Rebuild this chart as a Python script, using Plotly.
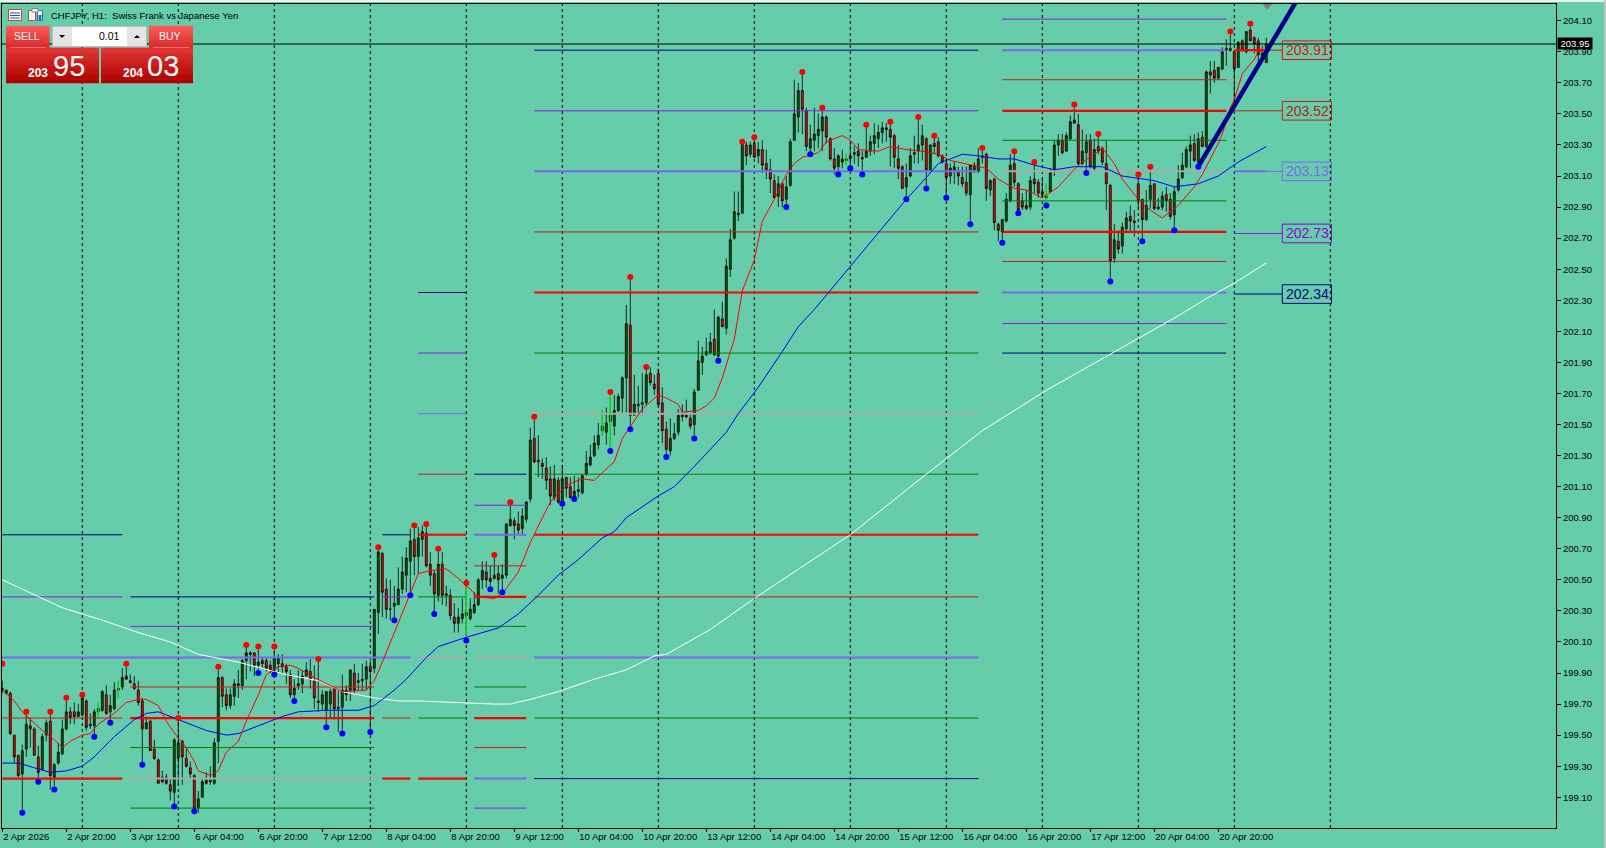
import plotly.graph_objects as go

W, H = 1606, 848
ML, MR, MT, MB = 2, 50, 4, 20

# ---------- chart values ----------
symbol_title = "CHFJPY, H1:\u00a0\u00a0Swiss Frank vs Japanese Yen"
price_ticks = [199.1, 199.3, 199.5, 199.7, 199.9, 200.1, 200.3, 200.5, 200.7, 200.9, 201.1, 201.3, 201.5,
               201.7, 201.9, 202.1, 202.3, 202.5, 202.7, 202.9, 203.1, 203.3, 203.5, 203.7, 203.9, 204.1]
time_tick_bars = [0, 16, 32, 48, 64, 80, 96, 112, 128, 144, 160, 176, 192, 208, 224, 240, 256, 272, 288, 304]
time_tick_text = ["2 Apr 2026", "2 Apr 20:00", "3 Apr 12:00", "6 Apr 04:00", "6 Apr 20:00", "7 Apr 12:00",
                  "8 Apr 04:00", "8 Apr 20:00", "9 Apr 12:00", "10 Apr 04:00", "10 Apr 20:00", "13 Apr 12:00",
                  "14 Apr 04:00", "14 Apr 20:00", "15 Apr 12:00", "16 Apr 04:00", "16 Apr 20:00", "17 Apr 12:00",
                  "20 Apr 04:00", "20 Apr 20:00"]
separator_bars = [20, 44, 68, 92, 116, 140, 164, 188, 212, 236, 260, 284, 308, 332]
current_price = 203.95

# open, high, low, close per hourly bar
bars_a = [
(199.79,199.85,199.77,199.80),(199.79,199.79,199.76,199.77),(199.77,199.78,199.50,199.51),(199.50,199.50,199.32,199.36),
(199.37,199.37,199.23,199.24),(199.25,199.44,199.02,199.40),(199.41,199.63,199.36,199.57),(199.56,199.61,199.42,199.54),
(199.54,199.55,199.37,199.37),(199.36,199.43,199.21,199.26),(199.28,199.51,199.27,199.49),(199.50,199.60,199.46,199.58),
(199.59,199.63,199.15,199.24),(199.23,199.32,199.17,199.31),(199.32,199.45,199.31,199.39),(199.38,199.60,199.37,199.54),
(199.54,199.72,199.53,199.65),(199.65,199.68,199.57,199.61),(199.65,199.71,199.57,199.62),(199.62,199.70,199.62,199.65),
(199.63,199.74,199.62,199.74),(199.72,199.73,199.53,199.55),(199.57,199.64,199.54,199.56),(199.56,199.67,199.50,199.65),
(199.65,199.71,199.61,199.67),(199.66,199.79,199.65,199.78),(199.76,199.82,199.63,199.64),(199.65,199.76,199.59,199.69),
(199.67,199.84,199.66,199.79),(199.79,199.85,199.74,199.80),(199.81,199.93,199.79,199.87),(199.88,199.94,199.86,199.86),
(199.85,199.89,199.83,199.84),(199.83,199.88,199.79,199.80),(199.79,199.85,199.69,199.71),(199.72,199.74,199.32,199.54),
(199.54,199.62,199.54,199.58),(199.59,199.60,199.40,199.40),(199.41,199.47,199.34,199.35),(199.34,199.35,199.19,199.19),
(199.23,199.27,199.19,199.20),(199.23,199.25,199.18,199.19),(199.18,199.22,199.08,199.14),(199.13,199.48,199.05,199.47),
(199.35,199.61,199.18,199.45),(199.46,199.47,199.18,199.36),(199.35,199.41,199.29,199.30),(199.29,199.33,199.22,199.25),
(199.24,199.25,199.01,199.03),(199.03,199.14,199.00,199.09),(199.10,199.22,199.10,199.20),(199.21,199.26,199.18,199.19),
(199.21,199.30,199.18,199.20),(199.19,199.48,199.18,199.45),(199.46,199.92,199.32,199.87),(199.87,199.88,199.68,199.75),
(199.76,199.80,199.66,199.69),(199.69,199.80,199.67,199.76),(199.75,199.86,199.69,199.83),(199.82,199.92,199.74,199.83),
(199.82,199.99,199.79,199.98),(199.98,200.07,199.86,200.03),(200.03,200.04,199.91,200.02),(200.03,200.03,199.88,199.95),
(199.95,200.05,199.92,199.97),(199.98,200.00,199.93,199.96),(199.98,200.00,199.91,199.93),(199.95,199.98,199.90,199.92),
(199.92,200.05,199.90,200.00),(199.96,200.02,199.90,200.00),(199.96,200.02,199.90,199.94),(199.94,199.96,199.83,199.91),
(199.89,199.92,199.74,199.76),(199.76,199.86,199.74,199.80),(199.82,199.92,199.79,199.83),(199.83,199.92,199.77,199.88),
(199.88,199.97,199.88,199.92),(199.91,199.99,199.80,199.86),(199.85,199.95,199.67,199.74),(199.72,199.98,199.65,199.71),
(199.70,199.79,199.66,199.76),(199.66,199.78,199.57,199.78),(199.70,199.80,199.61,199.78),(199.80,199.80,199.60,199.67),
(199.67,199.79,199.52,199.68),(199.68,199.89,199.53,199.79),(199.79,199.82,199.72,199.76),(199.79,199.92,199.72,199.92),
(199.90,199.96,199.77,199.79),(199.85,199.90,199.79,199.84),(199.85,199.96,199.79,199.86),(199.86,199.98,199.79,199.94),
(199.94,199.98,199.53,199.91),
]
bars_b = [
(199.93,200.31,199.90,200.31),(200.29,200.69,200.15,200.68),(200.67,200.68,200.26,200.42),(200.44,200.51,200.25,200.31),
(200.31,200.50,200.24,200.31),(200.33,200.46,200.26,200.35),(200.34,200.58,200.34,200.44),(200.44,200.65,200.41,200.55),
(200.53,200.71,200.42,200.64),(200.62,200.83,200.41,200.75),(200.76,200.83,200.53,200.65),(200.65,200.84,200.54,200.77),
(200.76,200.85,200.65,200.81),(200.80,200.84,200.58,200.59),(200.60,200.68,200.46,200.53),(200.54,200.56,200.29,200.41),
(200.40,200.68,200.36,200.60),(200.60,200.68,200.34,200.40),(200.41,200.46,200.33,200.40),(200.40,200.44,200.24,200.27),
(200.26,200.35,200.16,200.22),(200.22,200.32,200.16,200.26),(200.25,200.38,200.22,200.28),(200.27,200.46,200.14,200.29),
(200.25,200.38,200.24,200.31),(200.29,200.42,200.28,200.34),(200.34,200.51,200.33,200.50),(200.50,200.62,200.44,200.56),
(200.55,200.62,200.45,200.50),(200.51,200.59,200.46,200.49),(200.51,200.64,200.50,200.53),(200.54,200.59,200.41,200.50),
(200.51,200.60,200.43,200.53),(200.53,200.86,200.51,200.86),(200.85,200.99,200.84,200.89),(200.88,200.90,200.76,200.85),
(200.86,200.94,200.79,200.82),(200.83,200.96,200.79,200.91),(200.89,201.01,200.87,201.00),(201.02,201.48,201.00,201.40),
(201.41,201.53,201.25,201.26),(201.27,201.43,201.16,201.26),(201.25,201.28,201.15,201.23),(201.22,201.29,201.08,201.14),
(201.15,201.23,200.98,201.04),(201.03,201.24,201.01,201.15),(201.14,201.16,200.99,201.00),(201.00,201.24,200.99,201.15),
(201.16,201.16,201.03,201.09),(201.10,201.16,201.02,201.03),(201.03,201.17,201.02,201.07),(201.07,201.16,201.03,201.08),
(201.06,201.18,201.05,201.17),(201.18,201.33,201.17,201.25),(201.24,201.37,201.23,201.29),(201.30,201.43,201.29,201.38),
(201.37,201.51,201.34,201.43),(201.46,201.59,201.43,201.49),(201.45,201.61,201.37,201.51),(201.52,201.70,201.34,201.56),
(201.49,201.69,201.43,201.59),(201.59,201.70,201.58,201.68),(201.67,201.81,201.57,201.80),(201.80,202.27,201.58,202.15),
(202.14,202.43,201.48,201.56),(201.56,201.82,201.56,201.63),(201.62,201.75,201.56,201.63),(201.63,201.83,201.56,201.64),
(201.64,201.86,201.62,201.82),(201.83,201.87,201.75,201.77),(201.76,201.82,201.69,201.73),(201.83,201.86,201.62,201.63),
(201.64,201.74,201.38,201.46),(201.47,201.52,201.30,201.34),(201.33,201.54,201.30,201.41),(201.41,201.51,201.40,201.44),
(201.45,201.60,201.43,201.56),(201.57,201.63,201.52,201.55),(201.56,201.66,201.54,201.55),(201.54,201.57,201.47,201.49),
(201.50,201.73,201.43,201.71),(201.72,202.04,201.72,201.91),(201.90,202.00,201.82,201.94),(201.95,202.06,201.94,201.97),
(201.96,202.09,201.95,202.03),(202.05,202.24,201.94,201.95),(201.94,202.20,201.93,202.19),(202.18,202.29,202.13,202.13),
(202.12,202.57,202.08,202.52),
]
bars_c = [
(202.50,202.76,202.45,202.69),(202.70,203.00,202.69,202.87),(202.85,203.00,202.81,202.86),(202.86,203.33,202.86,203.33),
(203.30,203.32,203.17,203.23),(203.24,203.32,203.22,203.30),(203.31,203.35,203.22,203.22),(203.23,203.32,203.18,203.27),
(203.27,203.33,203.12,203.17),(203.18,203.27,203.08,203.14),(203.14,203.21,202.99,203.08),(203.07,203.11,202.96,202.96),
(202.97,203.10,202.90,203.05),(203.05,203.06,202.90,202.94),(202.95,203.10,202.92,203.03),(203.04,203.34,203.03,203.32),
(203.33,203.72,203.33,203.50),(203.48,203.70,203.38,203.65),(203.65,203.76,203.37,203.53),(203.52,203.54,203.26,203.29),
(203.28,203.43,203.25,203.34),(203.33,203.54,203.26,203.37),(203.36,203.50,203.28,203.40),(203.39,203.53,203.26,203.48),
(203.48,203.49,203.31,203.35),(203.34,203.35,203.20,203.21),(203.21,203.28,203.11,203.15),(203.16,203.24,203.11,203.23),
(203.21,203.27,203.15,203.19),(203.20,203.24,203.17,203.21),(203.21,203.31,203.16,203.23),(203.24,203.29,203.18,203.25),
(203.26,203.31,203.16,203.23),(203.22,203.26,203.12,203.21),(203.22,203.42,203.22,203.26),(203.26,203.36,203.23,203.32),
(203.31,203.44,203.24,203.36),(203.34,203.43,203.28,203.38),(203.38,203.45,203.31,203.41),(203.40,203.44,203.32,203.41),
(203.40,203.44,203.16,203.35),(203.36,203.37,203.15,203.22),(203.21,203.30,203.08,203.15),(203.16,203.17,203.02,203.02),
(203.03,203.18,202.96,203.09),(203.10,203.28,203.09,203.23),(203.24,203.36,203.18,203.25),(203.26,203.46,203.18,203.30),
(203.30,203.43,203.20,203.36),(203.34,203.35,203.04,203.14),(203.14,203.30,203.12,203.30),(203.31,203.35,203.24,203.29),
(203.32,203.35,203.22,203.23),(203.23,203.24,203.18,203.19),(203.18,203.21,202.97,203.09),(203.10,203.18,203.05,203.15),
(203.16,203.19,203.05,203.14),(203.13,203.16,203.04,203.10),(203.09,203.16,203.03,203.05),(203.06,203.16,202.97,202.99),
(202.98,203.17,202.81,203.17),(203.17,203.19,203.12,203.14),(203.13,203.28,203.12,203.21),(203.22,203.26,203.18,203.23),
(203.24,203.25,202.94,203.02),(203.01,203.08,202.97,203.07),(203.08,203.09,202.75,202.80),(202.79,202.80,202.68,202.75),
(202.74,202.82,202.68,202.82),(202.81,202.99,202.80,202.95),(202.94,203.24,202.93,203.17),(203.18,203.25,203.03,203.06),
(203.05,203.06,202.87,202.88),
]
bars_d = [
(202.94,202.99,202.88,202.90),(202.91,203.01,202.88,202.89),(202.90,203.10,202.88,203.07),(203.08,203.19,202.99,203.05),
(203.06,203.08,202.96,202.99),(202.98,203.08,202.96,203.00),(202.96,203.05,202.92,202.97),(203.00,203.15,202.99,203.12),
(203.14,203.33,203.10,203.30),(203.30,203.37,203.23,203.33),(203.33,203.37,203.24,203.25),(203.26,203.38,203.26,203.36),
(203.34,203.49,203.33,203.45),(203.46,203.54,203.44,203.44),(203.43,203.50,203.17,203.18),(203.18,203.40,203.17,203.26),
(203.25,203.37,203.14,203.32),(203.33,203.37,203.15,203.16),(203.15,203.34,203.14,203.27),(203.29,203.36,203.24,203.26),
(203.28,203.29,203.17,203.19),(203.18,203.33,202.88,203.05),(203.04,203.05,202.43,202.55),(202.57,202.79,202.54,202.69),
(202.68,202.75,202.60,202.63),(202.65,202.80,202.60,202.77),(202.76,202.87,202.74,202.83),(202.84,202.91,202.74,202.81),
(202.81,202.88,202.71,202.80),(203.05,203.10,202.88,202.94),(202.95,202.95,202.69,202.82),(202.82,203.01,202.81,202.91),
(202.95,203.14,202.89,203.04),(203.05,203.05,202.88,202.89),(202.90,202.96,202.88,202.89),(202.90,203.00,202.88,202.97),
(202.98,203.03,202.87,202.94),(202.95,202.99,202.82,202.84),(202.85,203.03,202.77,203.00),(203.01,203.17,203.00,203.08),
(203.09,203.25,203.08,203.17),(203.16,203.29,203.15,203.27),(203.26,203.36,203.15,203.30),(203.31,203.37,203.19,203.20),
(203.19,203.38,203.17,203.34),(203.35,203.39,203.29,203.29),(203.29,203.78,203.28,203.77),(203.77,203.84,203.63,203.75),
(203.78,203.84,203.70,203.73),(203.73,203.80,203.72,203.80),(203.79,203.93,203.78,203.90),(203.91,203.98,203.81,203.92),
(203.92,204.01,203.90,203.91),(203.90,203.91,203.57,203.79),(203.80,203.97,203.80,203.96),(203.97,203.98,203.90,203.91),
(203.90,204.03,203.89,204.03),(204.04,204.06,203.97,203.97),(203.99,204.00,203.89,203.95),(203.97,203.99,203.83,203.88),
(203.87,203.94,203.84,203.89),(203.83,203.99,203.83,203.95),
]

red_ma_bars = [0,3,5,8,10,13,15,17,20,22,24,28,31,34,36,39,41,44,46,48,49,52,54,56,59,61,64,66,69,72,74,78,81,85,91,93,95,98,
               102,104,107,111,114,118,119,123,125,129,132,135,137,139,142,145,148,150,153,155,158,160,164,166,169,170,174,
               176,178,180,183,185,188,190,193,196,198,200,204,206,210,212,214,219,222,226,230,234,237,244,246,249,253,256,
               260,264,267,269,273,275,278,280,284,287,290,294,298,300,304,305,307,308,310,313,314,316]
red_ma_vals = [199.79,199.72,199.65,199.58,199.53,199.47,199.42,199.46,199.50,199.51,199.57,199.64,199.71,199.73,199.73,199.69,
               199.59,199.48,199.42,199.33,199.27,199.24,199.27,199.39,199.46,199.59,199.76,199.89,199.94,199.95,199.93,199.87,
               199.83,199.78,199.79,199.85,199.97,200.16,200.41,200.54,200.56,200.57,200.51,200.41,200.39,200.38,200.41,200.55,
               200.74,200.90,201.00,201.06,201.12,201.15,201.14,201.19,201.26,201.41,201.52,201.60,201.69,201.67,201.63,201.58,
               201.59,201.62,201.67,201.80,202.05,202.36,202.56,202.81,202.95,203.11,203.18,203.22,203.25,203.32,203.36,203.33,
               203.27,203.26,203.29,203.27,203.26,203.24,203.20,203.16,203.15,203.08,203.02,203.01,202.96,203.03,203.11,203.17,
               203.24,203.28,203.18,203.08,202.95,202.88,202.83,202.91,203.03,203.11,203.31,203.37,203.54,203.59,203.76,203.85,
               203.90,203.91]
blue_ma_bars = [0,4,8,12,16,20,23,28,33,36,39,43,47,51,56,59,64,70,74,81,89,93,95,98,101,106,109,116,124,129,134,139,144,150,153,
                156,164,168,173,181,184,189,195,199,203,213,219,226,231,234,238,240,244,249,253,258,263,268,275,280,288,293,299,304,309,316]
blue_ma_vals = [199.32,199.32,199.29,199.26,199.27,199.30,199.36,199.49,199.60,199.64,199.65,199.61,199.57,199.53,199.50,199.51,
                199.56,199.62,199.65,199.66,199.66,199.69,199.73,199.79,199.86,200.00,200.07,200.13,200.19,200.28,200.40,200.53,
                200.63,200.77,200.81,200.90,201.04,201.10,201.23,201.45,201.57,201.74,201.97,202.13,202.24,202.55,202.74,202.95,
                203.09,203.18,203.22,203.24,203.23,203.21,203.21,203.17,203.14,203.16,203.16,203.10,203.07,203.03,203.05,203.10,203.19,203.29]
white_ma_bars = [0,15,25,34,42,49,59,71,79,85,93,99,104,112,123,127,132,139,148,156,163,166,177,188,212,230,245,261,278,294,301,308,316]
white_ma_vals = [200.50,200.32,200.24,200.16,200.10,200.02,199.97,199.89,199.85,199.78,199.74,199.72,199.72,199.71,199.70,199.70,
                 199.73,199.78,199.86,199.92,200.01,200.02,200.18,200.38,200.79,201.16,201.46,201.72,201.97,202.20,202.31,202.41,202.54]

fractal_up_bars = [0,6,12,16,20,31,44,54,61,64,68,79,94,103,106,109,116,123,127,133,152,157,161,185,188,200,205,216,222,229,233,245,253,258,268,274,284,287,307,312]
fractal_up_vals = [199.96,199.65,199.65,199.74,199.76,199.96,199.61,199.94,200.08,200.07,200.07,199.99,200.71,200.85,200.86,200.70,200.48,200.66,201.00,
                   201.55,201.71,202.45,201.87,203.32,203.35,203.77,203.54,203.43,203.45,203.48,203.36,203.28,203.26,203.19,203.56,203.37,203.11,203.16,204.03,204.08]
fractal_dn_bars = [5,9,13,23,27,35,43,48,64,68,73,81,85,92,98,102,108,116,122,125,140,143,152,157,166,173,179,196,202,209,212,215,226,231,236,242,250,254,261,271,277,285,293,299]
fractal_dn_vals = [199.00,199.20,199.15,199.49,199.58,199.31,199.04,199.01,199.90,199.89,199.72,199.55,199.51,199.52,200.24,200.40,200.28,200.11,200.44,200.42,
                   200.99,201.02,201.33,201.47,201.29,201.41,201.91,202.90,203.24,203.11,203.15,203.11,202.95,203.02,202.96,202.79,202.67,202.86,202.91,203.12,202.42,202.68,202.75,203.16]
signal_bars = [24, 29, 116, 150, 152, 211, 261]
signal_tops = [199.71, 199.85, 200.46, 201.59, 201.70, 203.24, 203.05]
signal_lows = [199.61, 199.74, 200.14, 201.43, 201.34, 203.17, 202.93]

trend_bars = [299, 325]
trend_vals = [203.16, 204.29]

# level, first bar, last bar
slate_thick = [(200.00,0,102),(200.79,118,131),(199.22,118,131),(203.13,133,244),(200.00,133,244),(203.91,250,306),(202.35,250,306),(203.13,308,316)]
slate_thin = [(201.57,104,116),(203.13,316,320)]
red_thick = [(199.22,0,30),(199.61,32,93),(199.22,95,102),(199.22,104,116),(200.79,104,116),(200.39,118,131),(199.61,118,131),(202.35,133,244),(200.79,133,244),(203.52,250,306),(202.74,250,306),(203.91,308,316)]
red_thin = [(199.61,0,30),(199.81,32,93),(199.61,95,102),(201.18,104,116),(200.59,118,131),(199.42,118,131),(202.74,133,244),(200.39,133,244),(203.72,250,306),(202.55,250,306),(203.91,316,320),(203.52,308,320)]
green_thin = [(199.42,32,93),(199.03,32,93),(199.61,104,116),(200.39,104,116),(200.20,118,131),(199.81,118,131),(201.96,133,244),(201.18,133,244),(199.61,133,244),(203.33,250,306),(202.94,250,306)]
gray_thick = [(199.22,32,93),(200.00,104,116),(200.00,118,131),(201.57,133,244),(203.13,250,306)]
navy_thin = [(200.79,0,30),(200.39,32,93),(200.79,95,102),(202.35,104,116),(201.18,118,131),(203.91,133,244),(199.22,133,244),(201.96,250,306),(202.34,308,320)]
purple_thin = [(200.39,0,30),(200.20,32,93),(200.39,95,102),(201.96,104,116),(200.98,118,131),(199.03,118,131),(203.52,133,244),(204.11,250,306),(202.15,250,306),(202.73,308,320)]

label_vals = [203.91, 203.52, 203.13, 202.73, 202.34]
label_text = ["203.91", "203.52", "203.13", "202.73", "202.34"]
label_border = ["#FF0000", "#D01818", "#7B68EE", "#9400D3", "#000080"]
label_font = ["#E81010", "#B22222", "#7B68EE", "#9400D3", "#000080"]

# ---------- figure ----------
BG = "#66CDAA"
FONT = "Liberation Sans"
bars = bars_a + bars_b + bars_c + bars_d
idx = list(range(len(bars)))

def px(x):
    return (x - ML) / (W - ML - MR)
def py(y):
    return 1 - (y - MT) / (H - MT - MB)

fig = go.Figure()
fig.add_trace(go.Candlestick(
    x=idx, open=[b[0] for b in bars], high=[b[1] for b in bars], low=[b[2] for b in bars], close=[b[3] for b in bars],
    increasing=dict(fillcolor="#006400", line=dict(color="#000000", width=0.8)),
    decreasing=dict(fillcolor="#FF0000", line=dict(color="#000000", width=0.8)),
    whiskerwidth=0, showlegend=False, hoverinfo="skip"))

def seg_trace(segs, color, width):
    xs, ys = [], []
    for lv, a, b in segs:
        xs += [a, b, None]
        ys += [lv, lv, None]
    fig.add_trace(go.Scatter(x=xs, y=ys, mode="lines", line=dict(color=color, width=width), showlegend=False, hoverinfo="skip"))

seg_trace(navy_thin, "#000080", 1)
seg_trace(purple_thin, "#8A1FE0", 1)
seg_trace(green_thin, "#008000", 1)
seg_trace(red_thin, "#C81E1E", 1)
seg_trace(slate_thin, "#7B68EE", 1)
seg_trace(gray_thick, "#A9A9A9", 2)
seg_trace(slate_thick, "#7B68EE", 2)
seg_trace(red_thick, "#FF0000", 2.2)

sx, sy = [], []
for b, t, l in zip(signal_bars, signal_tops, signal_lows):
    sx += [b, b, None]
    sy += [t, l, None]
fig.add_trace(go.Scatter(x=sx, y=sy, mode="lines", line=dict(color="#00FF00", width=1), showlegend=False, hoverinfo="skip"))

fig.add_trace(go.Scatter(x=white_ma_bars, y=white_ma_vals, mode="lines", line=dict(color="#FFFFFF", width=1), showlegend=False, hoverinfo="skip"))
fig.add_trace(go.Scatter(x=blue_ma_bars, y=blue_ma_vals, mode="lines", line=dict(color="#0000FF", width=1), showlegend=False, hoverinfo="skip"))
fig.add_trace(go.Scatter(x=red_ma_bars, y=red_ma_vals, mode="lines", line=dict(color="#FF0000", width=1), showlegend=False, hoverinfo="skip"))
fig.add_trace(go.Scatter(x=trend_bars, y=trend_vals, mode="lines", line=dict(color="#00008B", width=4.5), showlegend=False, hoverinfo="skip"))
fig.add_trace(go.Scatter(x=fractal_up_bars, y=fractal_up_vals, mode="markers", marker=dict(color="#FF0000", size=6, line=dict(width=0)), showlegend=False, hoverinfo="skip"))
fig.add_trace(go.Scatter(x=fractal_dn_bars, y=fractal_dn_vals, mode="markers", marker=dict(color="#0000FF", size=6, line=dict(width=0)), showlegend=False, hoverinfo="skip"))

shapes, annos = [], []

for b in separator_bars:
    shapes.append(dict(type="line", layer="below", xref="x", yref="paper", x0=b, x1=b, y0=0, y1=1,
                       line=dict(color="#000000", width=1, dash="3px,3px")))
shapes.append(dict(type="line", layer="above", xref="paper", yref="y", x0=0, x1=1, y0=current_price, y1=current_price,
                   line=dict(color="#000000", width=1)))
# window edges
shapes.append(dict(type="rect", xref="paper", yref="paper", x0=px(0), x1=px(W), y0=py(0), y1=py(2),
                   fillcolor="#E8F5F0", line=dict(width=0), layer="above"))
shapes.append(dict(type="rect", xref="paper", yref="paper", x0=px(1604), x1=px(W), y0=py(0), y1=py(H),
                   fillcolor="#C4C4C4", line=dict(width=0), layer="above"))
# shift marker
shapes.append(dict(type="path", xref="x", yref="y", path="M 314.9 204.21 L 317.6 204.21 L 316.25 204.17 Z",
                   fillcolor="#808080", line=dict(width=0), layer="above"))

for v, t, bc, fc in zip(label_vals, label_text, label_border, label_font):
    shapes.append(dict(type="rect", xref="x", yref="y", x0=320, x1=332.3, y0=v - 0.06, y1=v + 0.06,
                       line=dict(color=bc, width=1), fillcolor="rgba(0,0,0,0)", layer="above"))
    annos.append(dict(x=326.2, y=v, xref="x", yref="y", text=t, showarrow=False, xanchor="center", yanchor="middle",
                      font=dict(family=FONT, size=14, color=fc)))

# price tag
annos.append(dict(x=px(1575), y=py(43), xref="paper", yref="paper", text="%.2f" % current_price, showarrow=False,
                  xanchor="center", yanchor="middle", bgcolor="#000000", width=34, height=11, borderpad=0,
                  font=dict(family=FONT, size=9.5, color="#FFFFFF")))

def rect(x0, y0, x1, y1, fill, line=None):
    shapes.append(dict(type="rect", xref="paper", yref="paper", layer="above", x0=px(x0), x1=px(x1), y0=py(y0), y1=py(y1),
                       fillcolor=fill, line=dict(color=line, width=1) if line else dict(width=0)))

def gradient(x0, y0, x1, y1, c0, c1, steps=10):
    for s in range(steps):
        t = s / (steps - 1)
        col = "rgb(%d,%d,%d)" % tuple(round(a + (b - a) * t) for a, b in zip(c0, c1))
        rect(x0, y0 + (y1 - y0) * s / steps - 0.3, x1, y0 + (y1 - y0) * (s + 1) / steps + 0.3, col)

def label(x, y, text, size, color="#FFFFFF", anchor="center", bold=False, family=FONT):
    annos.append(dict(x=px(x), y=py(y), xref="paper", yref="paper", text="<b>%s</b>" % text if bold else text, showarrow=False,
                      xanchor=anchor, yanchor="middle", font=dict(family=family, size=size, color=color)))

# trade panel
gradient(6, 26, 49.5, 50, (255, 88, 88), (214, 40, 40))
gradient(149, 26, 193, 50, (255, 88, 88), (214, 40, 40))
gradient(6, 48, 99, 83, (226, 52, 52), (176, 0, 0))
gradient(101, 48, 193, 83, (226, 52, 52), (176, 0, 0))
rect(10, 47.5, 46, 48, "#FFB0B0")
rect(153, 47.5, 189, 48, "#FFB0B0")
rect(52.5, 26.5, 146.5, 46.5, "#E4E4E4", "#BDBDBD")
rect(72, 27, 127, 46, "#FFFFFF")
shapes.append(dict(type="path", xref="paper", yref="paper", layer="above", fillcolor="#000000", line=dict(width=0),
                   path="M %f %f L %f %f L %f %f Z" % (px(59), py(35), px(65), py(35), px(62), py(38))))
shapes.append(dict(type="path", xref="paper", yref="paper", layer="above", fillcolor="#000000", line=dict(width=0),
                   path="M %f %f L %f %f L %f %f Z" % (px(134), py(38), px(140), py(38), px(137), py(35))))
label(27, 36.5, "SELL", 10.5)
label(170, 36.5, "BUY", 10.5)
label(122, 36.5, "0.01", 10.5, "#000000", "right")
label(38.3, 72.7, "203", 12, bold=True)
label(68.8, 66.2, "95", 29)
label(132.5, 72.7, "204", 12, bold=True)
label(163.3, 66.2, "03", 29)

# title icons
rect(8.5, 9.5, 21.5, 20.5, "#FFFFFF", "#D04030")
for yy in (12.5, 15, 17.5):
    rect(10, yy, 20, yy + 1, "#2050B0")
rect(28.5, 10.5, 35.5, 20.5, "#FFFFFF", "#D04030")
rect(37.5, 10.5, 42.5, 20.5, "#FFFFFF", "#3070B0")
rect(38.5, 15, 41.5, 20, "#3070B0")
rect(32, 8.5, 38, 12, "#FFFFFF", "#808080")
label(48.5, 16, symbol_title, 9.5, "#000000", "left")

fig.update_layout(
    width=W, height=H, autosize=False, margin=dict(l=ML, r=MR, t=MT, b=MB, pad=0, autoexpand=False),
    paper_bgcolor=BG, plot_bgcolor=BG, showlegend=False, boxgap=0.3,
    shapes=shapes, annotations=annos, font=dict(family=FONT, size=9.5, color="#000000"),
    xaxis=dict(range=[-0.075, 388.425], rangeslider=dict(visible=False), showgrid=False, zeroline=False, automargin=False,
               tickmode="array", tickvals=time_tick_bars, ticktext=time_tick_text, ticks="outside", ticklen=3, tickangle=0,
               tickcolor="#000000", tickwidth=1, ticklabelposition="outside right", ticklabeloverflow="allow",
               tickfont=dict(family=FONT, size=9.5), showline=True, linecolor="#000000", linewidth=1, mirror=True),
    yaxis=dict(range=[198.902, 204.2075], side="right", showgrid=False, zeroline=False, automargin=False,
               tickmode="array", tickvals=price_ticks, ticktext=["%.2f" % v for v in price_ticks], ticks="outside",
               ticklen=4, tickcolor="#000000", tickwidth=1, tickfont=dict(family=FONT, size=9.5),
               showline=True, linecolor="#000000", linewidth=1, mirror=True),
)

fig.write_html("out.html", config={"displayModeBar": False},
               post_script="document.body.style.margin='0';document.documentElement.style.overflow='hidden';")
